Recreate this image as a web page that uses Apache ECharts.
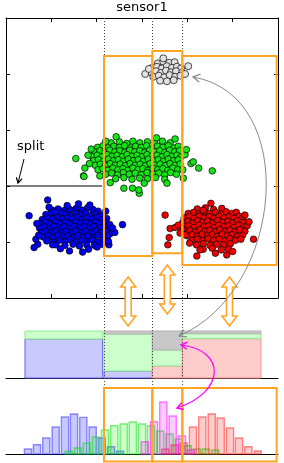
<!DOCTYPE html>
<html><head><meta charset="utf-8">
<script src="https://cdn.jsdelivr.net/npm/echarts@6/dist/echarts.min.js"></script>
<style>html,body{margin:0;padding:0;background:#fff}#c{width:284px;height:463px}</style>
</head><body><div id="c"></div>
<script>
// ---- scatter clusters (sensor1 on x, second feature on y) ----
const bluePts = [
[1.02,1.57],[1.15,1.59],[1.28,1.56],[1.41,1.58],[1.55,1.60],[1.68,1.57],[1.80,1.61],[1.92,1.58],[2.03,1.55],
[0.88,1.49],[0.99,1.51],[1.10,1.48],[1.21,1.52],[1.32,1.50],[1.43,1.47],[1.54,1.51],[1.65,1.49],[1.76,1.52],[1.87,1.48],[1.98,1.50],[2.10,1.47],
[0.80,1.40],[0.91,1.43],[1.02,1.41],[1.13,1.44],[1.24,1.40],[1.35,1.43],[1.46,1.41],[1.57,1.44],[1.68,1.40],[1.79,1.43],[1.90,1.41],[2.01,1.44],[2.12,1.40],[2.22,1.42],
[0.76,1.33],[0.87,1.35],[0.98,1.32],[1.09,1.36],[1.20,1.33],[1.31,1.35],[1.42,1.32],[1.53,1.36],[1.64,1.33],[1.75,1.35],[1.86,1.32],[1.97,1.36],[2.08,1.33],[2.19,1.35],[2.29,1.31],
[0.74,1.25],[0.85,1.27],[0.96,1.24],[1.07,1.28],[1.18,1.25],[1.29,1.27],[1.40,1.24],[1.51,1.28],[1.62,1.25],[1.73,1.27],[1.84,1.24],[1.95,1.28],[2.06,1.25],[2.17,1.27],[2.28,1.23],
[0.78,1.17],[0.89,1.19],[1.00,1.16],[1.11,1.20],[1.22,1.17],[1.33,1.19],[1.44,1.16],[1.55,1.20],[1.66,1.17],[1.77,1.19],[1.88,1.16],[1.99,1.20],[2.10,1.17],[2.21,1.19],[2.30,1.15],
[0.82,1.09],[0.93,1.11],[1.04,1.08],[1.15,1.12],[1.26,1.09],[1.37,1.11],[1.48,1.08],[1.59,1.12],[1.70,1.09],[1.81,1.11],[1.92,1.08],[2.03,1.12],[2.14,1.09],[2.25,1.11],
[0.90,1.02],[1.05,1.00],[1.18,1.03],[1.30,1.01],[1.42,1.04],[1.54,1.00],[1.66,1.03],[1.78,1.01],[1.90,1.04],[2.02,1.00],[2.14,1.03],[2.24,1.00],
[1.10,0.95],[1.30,0.94],[1.48,0.96],[1.62,0.93],[1.78,0.95],[1.95,0.94],[2.12,0.96],
[0.51,1.47],[0.92,1.75],[2.57,1.31],[2.40,1.17],[0.62,0.90],[1.40,0.84],[2.01,0.91],[1.03,0.95],[1.07,1.54],[1.82,0.87],[2.27,0.95],
[1.69,0.82],[2.26,1.01],[0.70,0.96],[0.66,1.05],[0.72,1.12],[0.68,1.33],[1.60,1.68],[1.35,1.65],[1.85,1.66],[2.20,1.55],[1.20,0.88],[0.95,1.62],[2.35,1.25]
];
const greenPts = [
[2.32,2.77],[2.50,2.79],[2.66,2.76],[2.80,2.80],[2.95,2.77],[3.12,2.79],[3.28,2.76],[3.45,2.80],[3.62,2.77],
[2.02,2.69],[2.14,2.72],[2.26,2.68],[2.38,2.71],[2.50,2.69],[2.62,2.72],[2.74,2.68],[2.86,2.71],[2.98,2.69],[3.10,2.72],[3.22,2.68],[3.34,2.71],[3.46,2.69],[3.58,2.72],[3.70,2.68],[3.80,2.71],
[1.96,2.61],[2.07,2.63],[2.18,2.60],[2.29,2.64],[2.40,2.61],[2.51,2.63],[2.62,2.60],[2.73,2.64],[2.84,2.61],[2.95,2.63],[3.06,2.60],[3.17,2.64],[3.28,2.61],[3.39,2.63],[3.50,2.60],[3.61,2.64],[3.72,2.61],[3.83,2.63],
[1.90,2.53],[2.01,2.55],[2.12,2.52],[2.23,2.56],[2.34,2.53],[2.45,2.55],[2.56,2.52],[2.67,2.56],[2.78,2.53],[2.89,2.55],[3.00,2.52],[3.11,2.56],[3.22,2.53],[3.33,2.55],[3.44,2.52],[3.55,2.56],[3.66,2.53],[3.77,2.55],[3.86,2.52],
[1.93,2.45],[2.04,2.47],[2.15,2.44],[2.26,2.48],[2.37,2.45],[2.48,2.47],[2.59,2.44],[2.70,2.48],[2.81,2.45],[2.92,2.47],[3.03,2.44],[3.14,2.48],[3.25,2.45],[3.36,2.47],[3.47,2.44],[3.58,2.48],[3.69,2.45],[3.80,2.47],
[1.97,2.37],[2.08,2.39],[2.19,2.36],[2.30,2.40],[2.41,2.37],[2.52,2.39],[2.63,2.36],[2.74,2.40],[2.85,2.37],[2.96,2.39],[3.07,2.36],[3.18,2.40],[3.29,2.37],[3.40,2.39],[3.51,2.36],[3.62,2.40],[3.73,2.37],[3.84,2.39],
[2.03,2.29],[2.14,2.31],[2.25,2.28],[2.36,2.32],[2.47,2.29],[2.58,2.31],[2.69,2.28],[2.80,2.32],[2.91,2.29],[3.02,2.31],[3.13,2.28],[3.24,2.32],[3.35,2.29],[3.46,2.31],[3.57,2.28],[3.68,2.32],[3.79,2.29],
[2.20,2.21],[2.33,2.23],[2.46,2.20],[2.59,2.24],[2.72,2.21],[2.85,2.23],[2.98,2.20],[3.11,2.24],[3.24,2.21],[3.37,2.23],[3.50,2.20],[3.63,2.24],[3.76,2.21],
[2.42,2.13],[2.60,2.15],[2.78,2.12],[2.95,2.14],[3.12,2.13],[3.30,2.15],[3.50,2.12],
[1.54,2.49],[1.81,2.55],[1.71,2.18],[2.07,2.18],[4.55,2.27],[4.08,2.40],[4.25,2.32],[3.90,2.29],[1.72,2.17],[1.74,2.32],[4.13,2.43],[3.91,2.14],
[2.43,2.88],[3.73,2.84],[3.32,2.86],[2.60,1.96],[2.79,1.96],[2.94,1.87],[2.93,1.93],[1.84,2.40],[1.88,2.66],[3.95,2.56],[3.98,2.65],[2.20,2.80],[3.55,2.05],[2.30,2.06],[3.05,2.05]
];
const redPts = [
[4.22,1.59],[4.40,1.61],[4.58,1.58],[4.76,1.60],
[4.02,1.51],[4.14,1.53],[4.26,1.50],[4.38,1.54],[4.50,1.51],[4.62,1.53],[4.74,1.50],[4.86,1.54],[4.98,1.51],[5.08,1.53],
[3.93,1.43],[4.04,1.45],[4.15,1.42],[4.26,1.46],[4.37,1.43],[4.48,1.45],[4.59,1.42],[4.70,1.46],[4.81,1.43],[4.92,1.45],[5.03,1.42],[5.14,1.46],[5.22,1.43],
[3.90,1.35],[4.01,1.37],[4.12,1.34],[4.23,1.38],[4.34,1.35],[4.45,1.37],[4.56,1.34],[4.67,1.38],[4.78,1.35],[4.89,1.37],[5.00,1.34],[5.11,1.38],[5.22,1.35],
[3.92,1.27],[4.03,1.29],[4.14,1.26],[4.25,1.30],[4.36,1.27],[4.47,1.29],[4.58,1.26],[4.69,1.30],[4.80,1.27],[4.91,1.29],[5.02,1.26],[5.13,1.30],[5.24,1.27],[5.32,1.29],
[3.95,1.19],[4.06,1.21],[4.17,1.18],[4.28,1.22],[4.39,1.19],[4.50,1.21],[4.61,1.18],[4.72,1.22],[4.83,1.19],[4.94,1.21],[5.05,1.18],[5.16,1.22],[5.27,1.19],
[4.00,1.11],[4.11,1.13],[4.22,1.10],[4.33,1.14],[4.44,1.11],[4.55,1.13],[4.66,1.10],[4.77,1.14],[4.88,1.11],[4.99,1.13],[5.10,1.10],[5.22,1.12],
[4.10,1.03],[4.22,1.05],[4.34,1.02],[4.46,1.06],[4.58,1.03],[4.70,1.05],[4.82,1.02],[4.94,1.06],[5.06,1.03],[5.18,1.05],
[4.20,0.95],[4.35,0.97],[4.50,0.94],[4.65,0.96],[4.80,0.95],[4.95,0.97],
[4.35,0.87],[4.55,0.89],[4.75,0.86],
[3.51,1.48],[3.62,1.24],[3.73,1.26],[3.60,1.08],[3.57,0.95],[5.46,1.05],[5.27,1.48],[4.21,0.75],[4.87,0.77],[4.91,0.87],[4.28,0.86],
[4.35,1.57],[3.88,1.24],[3.95,1.13],[5.00,0.83],[4.52,1.69],[3.80,1.30],[3.84,1.16],[5.36,1.36],[4.05,0.98],[4.62,0.80]
];
const grayPts = [
[3.35,4.19],[3.47,4.22],[3.60,4.20],[3.72,4.21],
[3.22,4.11],[3.33,4.13],[3.44,4.10],[3.55,4.14],[3.66,4.11],[3.77,4.13],[3.86,4.10],
[3.20,4.03],[3.31,4.05],[3.42,4.02],[3.53,4.06],[3.64,4.03],[3.75,4.05],[3.88,4.02],
[3.25,3.95],[3.37,3.97],[3.49,3.94],[3.61,3.98],[3.73,3.95],[3.85,3.97],
[3.40,3.88],[3.55,3.87],[3.70,3.89],
[3.07,4.00],[4.02,4.14],[3.47,4.28],[3.95,4.00],[3.15,4.09]
];
// ---- split thresholds on sensor1 and the candidate regions ----
const thresholds = [2.162, 3.228, 3.890];
const regionLeft = [2.162, 3.228, 3.890];
const regionRight = [3.228, 3.890, 5.97];
const regionBottom = [0.75, 0.80, 0.59];
const regionTop = [4.32, 4.41, 4.32];
const splitY = 2, splitXEnd = 2.12;
// ---- class composition per sensor1 interval (stacked) ----
const segLeft = [0.419, 2.162, 3.228, 3.890];
const segRight = [2.132, 3.228, 3.890, 5.625];
const segBlue = [39, 7, 0, 0];
const segRed = [0, 0, 12, 39.3];
const segGreen = [8, 37, 16, 5];
const segGray = [0, 3, 19, 2.7];
// ---- histograms of sensor1 per class ----
const histBlueX = [0.485,0.684,0.889,1.096,1.301,1.500,1.705,1.912,2.111,2.316,2.515];
const histBlueY = [5,9.3,16,27,37,40,36.6,27,16,7.3,2.7];
const histGreenX = [1.383,1.582,1.780,1.985,2.184,2.389,2.596,2.797,3.000,3.199,3.404,3.607,3.810,4.010,4.213,4.412,4.617];
const histGreenY = [2.7,6,10.7,17,24,28.3,30,32,30,28,23,20,15,8.3,5,5,3.7];
const histPinkX = [3.060,3.265,3.470,3.677,3.882,4.081];
const histPinkY = [12.3,32.3,52,38,18,4];
const histRedX = [3.514,3.721,3.920,4.125,4.330,4.538,4.736,4.941,5.140,5.345,5.552];
const histRedY = [4.7,9,11,27,37,40,36,26,16,7.3,3];
const histBoxBottom = -7.4, histBoxTop = 66;

const ORANGE = '#ffa425';
const FONT = 'DejaVu Sans';
const chart = echarts.init(document.getElementById('c'), null, {renderer:'canvas'});

function boxRender(params, api){
  const a = api.coord([api.value(0), api.value(3)]);
  const b = api.coord([api.value(1), api.value(2)]);
  return {type:'rect', shape:{x:a[0], y:a[1], width:b[0]-a[0], height:b[1]-a[1]},
    style:{fill:null, stroke:ORANGE, lineWidth:2}};
}
const segStyles = [
  {fill:'#c9c9ff', stroke:'#6262ee'},
  {fill:'#ffcccc', stroke:'#ff8c8c'},
  {fill:'#ccffcc', stroke:'#8ced8c'},
  {fill:'#c8c8c8', stroke:'#b2b2b2'}
];
const segData = [];
for (let i=0;i<segLeft.length;i++){
  let base = 0;
  [[segBlue[i],0],[segRed[i],1],[segGreen[i],2],[segGray[i],3]].forEach(([v,k])=>{
    if (v>0){ segData.push([segLeft[i], segRight[i], base, base+v, k]); base += v; }
  });
}
function segRender(params, api){
  const a = api.coord([api.value(0), api.value(3)]);
  const b = api.coord([api.value(1), api.value(2)]);
  const s = segStyles[api.value(4)];
  return {type:'rect', shape:{x:a[0], y:a[1], width:b[0]-a[0], height:b[1]-a[1]},
    style:{fill:s.fill, stroke:s.stroke, lineWidth:1}};
}
function histRender(fill, stroke){
  return function(params, api){
    const base = api.coord([api.value(0), 0]);
    const top = api.coord([api.value(0), api.value(1)]);
    return {type:'rect', shape:{x:base[0]-3.6, y:top[1], width:7.2, height:base[1]-top[1]},
      style:{fill:fill, stroke:stroke, lineWidth:1.4}};
  };
}
const zip = (xs, ys) => xs.map((x,i)=>[x, ys[i]]);
const sc = (data, color, size) => ({type:'scatter', xAxisIndex:0, yAxisIndex:0, data:data, symbol:'circle', symbolSize:size||6.6,
  itemStyle:{color:color, borderColor:'#000', borderWidth:0.7, opacity:1}, z:2, silent:true});

const frameAx = {axisLine:{show:true, onZero:false, lineStyle:{color:'#000', width:1}}, axisTick:{show:true, inside:true, length:4, lineStyle:{color:'#000'}}, axisLabel:{show:false}, splitLine:{show:false}};
const baseAx = {axisLine:{show:true, onZero:true, lineStyle:{color:'#000', width:1.2}}, axisLabel:{show:false}, axisTick:{show:false}, splitLine:{show:false}};
chart.setOption({
  animation:false,
  backgroundColor:'#fff',
  title:{text:'sensor1', left:'center', top:1, padding:0, textStyle:{fontSize:13, fontWeight:'normal', fontFamily:FONT, color:'#000'}},
  grid:[
    {left:6, right:6, top:18, height:280},
    {left:6, right:6, top:318, height:60},
    {left:6, right:6, top:384, height:79}
  ],
  xAxis:[
    Object.assign({type:'value', gridIndex:0, min:0, max:6, interval:1, position:'bottom'}, frameAx),
    Object.assign({type:'value', gridIndex:0, min:0, max:6, interval:1, position:'top'}, frameAx),
    Object.assign({type:'value', gridIndex:1, min:0, max:6}, baseAx),
    Object.assign({type:'value', gridIndex:2, min:0, max:6}, baseAx)
  ],
  yAxis:[
    Object.assign({type:'value', gridIndex:0, min:0, max:5, interval:1, position:'left'}, frameAx),
    Object.assign({type:'value', gridIndex:0, min:0, max:5, interval:1, position:'right'}, frameAx),
    {type:'value', gridIndex:1, min:0, max:60, show:false},
    {type:'value', gridIndex:2, min:-9, max:70, show:false}
  ],
  series:[
    sc(bluePts, '#0000f0'),
    sc(greenPts, '#16e416'),
    sc(redPts, '#f00000'),
    sc(grayPts, '#e2e2e2', 7),
    {type:'line', xAxisIndex:0, yAxisIndex:0, data:[[0,splitY],[splitXEnd,splitY]], symbol:'none', lineStyle:{color:'#000', width:1.2}, z:3, silent:true},
    {type:'custom', xAxisIndex:0, yAxisIndex:0, renderItem:boxRender, z:6, silent:true,
      data: regionLeft.map((l,i)=>[l, regionRight[i], regionBottom[i], regionTop[i]])},
    {type:'custom', xAxisIndex:2, yAxisIndex:2, renderItem:segRender, z:2, silent:true, data:segData},
    {type:'custom', xAxisIndex:3, yAxisIndex:3, renderItem:histRender('rgba(0,0,255,0.21)','rgba(40,40,255,0.5)'), z:2, silent:true, data:zip(histBlueX, histBlueY)},
    {type:'custom', xAxisIndex:3, yAxisIndex:3, renderItem:histRender('rgba(0,255,0,0.2)','rgba(0,220,0,0.5)'), z:2, silent:true, data:zip(histGreenX, histGreenY)},
    {type:'custom', xAxisIndex:3, yAxisIndex:3, renderItem:histRender('rgba(255,0,0,0.2)','rgba(255,0,0,0.45)'), z:2, silent:true, data:zip(histRedX, histRedY)},
    {type:'custom', xAxisIndex:3, yAxisIndex:3, renderItem:histRender('rgba(255,0,255,0.2)','rgba(255,0,255,0.5)'), z:2, silent:true, data:zip(histPinkX, histPinkY)},
    {type:'custom', xAxisIndex:3, yAxisIndex:3, renderItem:boxRender, z:6, silent:true,
      data: regionLeft.map((l,i)=>[l, regionRight[i], histBoxBottom, histBoxTop])}
  ]
});

// ---- annotations (dotted thresholds, arrows, labels) ----
function headLines(tip, from, size, color, width){
  const dx = tip[0]-from[0], dy = tip[1]-from[1];
  const L = Math.hypot(dx,dy); const ux = dx/L, uy = dy/L;
  const a = Math.PI/6;
  const p1 = [tip[0]-size*(ux*Math.cos(a)-uy*Math.sin(a)), tip[1]-size*(uy*Math.cos(a)+ux*Math.sin(a))];
  const p2 = [tip[0]-size*(ux*Math.cos(a)+uy*Math.sin(a)), tip[1]-size*(uy*Math.cos(a)-ux*Math.sin(a))];
  return {type:'polyline', shape:{points:[p1, tip, p2]}, style:{stroke:color, lineWidth:width, fill:null}, z:20};
}
function dblArrow(cx, cy, L, h, hw, sw){
  const pts = [[0,-L],[hw,-L+h],[sw,-L+h],[sw,L-h],[hw,L-h],[0,L],[-hw,L-h],[-sw,L-h],[-sw,-L+h],[-hw,-L+h]].map(p=>[cx+p[0], cy+p[1]]);
  return {type:'polygon', shape:{points:pts}, style:{fill:'#fff', stroke:ORANGE, lineWidth:1.6}, z:20};
}
const g = [];
const topPx = chart.convertToPixel({gridIndex:0}, [0, 5])[1];
thresholds.forEach(t=>{
  const x = Math.round(chart.convertToPixel({xAxisIndex:0}, t)) + 0.5;
  g.push({type:'line', shape:{x1:x, y1:topPx, x2:x, y2:461}, style:{stroke:'#444', lineWidth:1, lineDash:[1,2]}, z:4, silent:true});
});
regionLeft.forEach((l,i)=>{
  const cx = chart.convertToPixel({xAxisIndex:0}, (l+regionRight[i])/2);
  const cy = i===1 ? 289.5 : 301.5;
  g.push(dblArrow(cx, cy, 24.5, 10, 7.5, 3));
});
// gray double-headed curve
const G0=[179,336], G1=[285,290], G2=[300,95], G3=[193,77];
g.push({type:'bezierCurve', shape:{x1:G0[0],y1:G0[1],cpx1:G1[0],cpy1:G1[1],cpx2:G2[0],cpy2:G2[1],x2:G3[0],y2:G3[1]}, style:{stroke:'#8a8a8a', lineWidth:1, fill:null}, z:20});
g.push(headLines(G3, G2, 8, '#8a8a8a', 1.3));
g.push(headLines(G0, G1, 8, '#8a8a8a', 1.3));
// magenta double-headed curve
const M0=[181,345], M1=[226,350], M2=[226,392], M3=[177,408];
g.push({type:'bezierCurve', shape:{x1:M0[0],y1:M0[1],cpx1:M1[0],cpy1:M1[1],cpx2:M2[0],cpy2:M2[1],x2:M3[0],y2:M3[1]}, style:{stroke:'#ff00ff', lineWidth:1.2, fill:null}, z:20});
g.push(headLines(M0, M1, 7, '#ff00ff', 1.4));
g.push(headLines(M3, M2, 7, '#ff00ff', 1.4));
// split label + arrow
g.push({type:'text', x:17, y:140, style:{text:'split', fontSize:13, fontFamily:FONT, fill:'#000'}, z:20});
g.push({type:'line', shape:{x1:24, y1:159, x2:18, y2:183}, style:{stroke:'#000', lineWidth:1}, z:20});
g.push(headLines([18,183], [24,159], 6, '#000', 1.2));
chart.setOption({graphic:g});
</script>
</body></html>
